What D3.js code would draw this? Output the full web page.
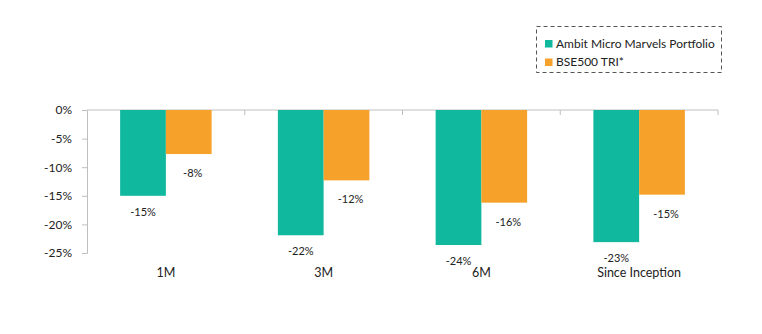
<!DOCTYPE html>
<html>
<head>
<meta charset="utf-8">
<script src="https://cdn.jsdelivr.net/npm/d3@7"></script>
<style>
  html, body { margin: 0; padding: 0; background: #fff; }
  svg { display: block; font-family: Lato, "Open Sans", sans-serif; }
</style>
</head>
<body>
<svg id="chart" width="762" height="334"></svg>
<script>
// Period returns (%)
const categories = ["1M", "3M", "6M", "Since Inception"];
const seriesNames = ["Ambit Micro Marvels Portfolio", "BSE500 TRI*"];
const portfolio = [-15.0, -21.9, -23.6, -23.1];
const benchmark = [-7.7, -12.3, -16.2, -14.8];
const yTicks = [0, -5, -10, -15, -20, -25];
const colors = ["#10b89e", "#f6a12a"];

const svg = d3.select("#chart");
const margin = { left: 87, right: 44, top: 110, bottom: 81 };
const W = 762, H = 334;

const x = d3.scaleBand()
  .domain(categories)
  .range([margin.left, W - margin.right])
  .paddingInner(0.42)
  .paddingOuter(0.21);

const x1 = d3.scaleBand()
  .domain(d3.range(seriesNames.length))
  .range([0, x.bandwidth()]);

const y = d3.scaleLinear()
  .domain([-25, 0])
  .range([H - margin.bottom, margin.top]);

const axisColor = "#bfbfbf";

// y axis
const yAxis = svg.append("g")
  .attr("transform", `translate(${margin.left},0)`)
  .call(d3.axisLeft(y).tickValues(yTicks).tickSize(5).tickPadding(10)
    .tickFormat(d => d + "%"));
yAxis.select(".domain").attr("stroke", axisColor);
yAxis.selectAll(".tick line").attr("stroke", axisColor);
yAxis.selectAll("text").attr("fill", "#222").style("font-size", "12px")
  .style("font-family", "Lato, 'Open Sans', sans-serif");

// zero line with category boundary ticks
const x0 = margin.left, x4 = W - margin.right;
svg.append("line")
  .attr("x1", x0).attr("x2", x4)
  .attr("y1", y(0)).attr("y2", y(0))
  .attr("stroke", axisColor);
const bounds = d3.range(categories.length + 1).map(i => x0 + i * (x4 - x0) / categories.length);
svg.selectAll(".ctick").data(bounds.slice(1)).enter().append("line")
  .attr("x1", d => d).attr("x2", d => d)
  .attr("y1", y(0)).attr("y2", y(0) + 5)
  .attr("stroke", axisColor);

// bars
const rows = categories.map((c, i) => ({ cat: c, vals: [portfolio[i], benchmark[i]] }));
const groups = svg.selectAll(".grp").data(rows).enter().append("g")
  .attr("transform", d => `translate(${x(d.cat)},0)`);

groups.selectAll("rect").data(d => d.vals.map((v, k) => ({ v, k }))).enter().append("rect")
  .attr("x", d => x1(d.k))
  .attr("width", x1.bandwidth())
  .attr("y", y(0))
  .attr("height", d => y(d.v) - y(0))
  .attr("fill", d => colors[d.k]);

// value labels below each bar
groups.selectAll("text.val").data(d => d.vals.map((v, k) => ({ v, k }))).enter().append("text")
  .attr("class", "val")
  .attr("x", d => x1(d.k) + x1.bandwidth() / 2 + (d.k === 1 ? 4 : 0))
  .attr("y", d => y(d.v) + (d.k === 1 ? 23 : 20))
  .attr("text-anchor", "middle")
  .attr("fill", "#222")
  .style("font-size", "11px")
  .text(d => Math.round(d.v) + "%");

// category labels
svg.selectAll(".cat").data(categories).enter().append("text")
  .attr("x", d => x(d) + x.bandwidth() / 2)
  .attr("y", 277)
  .attr("text-anchor", "middle")
  .attr("fill", "#222")
  .style("font-size", "12.5px")
  .text(d => d);

// legend
const lg = svg.append("g");
lg.append("rect")
  .attr("x", 536.5).attr("y", 26.5).attr("width", 185).attr("height", 46)
  .attr("fill", "none").attr("stroke", "#555").attr("stroke-dasharray", "4,3");
seriesNames.forEach((n, i) => {
  const cy = 43.5 + i * 18.5;
  lg.append("rect").attr("x", 545).attr("y", cy - 3.5).attr("width", 7.5).attr("height", 7.5)
    .attr("fill", colors[i]);
  lg.append("text").attr("x", 556).attr("y", cy + 4)
    .attr("fill", "#222").style("font-size", "12px").text(n);
});
</script>
</body>
</html>
